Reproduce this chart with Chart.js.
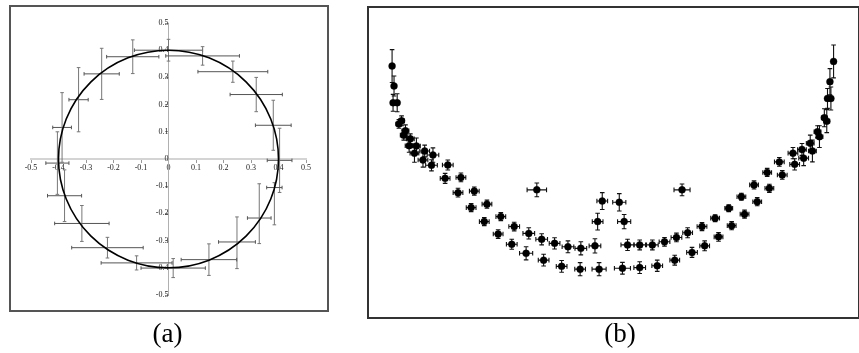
<!DOCTYPE html>
<html><head><meta charset="utf-8">
<script src="https://cdn.jsdelivr.net/npm/chart.js@4.4.1/dist/chart.umd.min.js"></script>
<style>
html,body{margin:0;padding:0;background:#fff;width:859px;height:353px;overflow:hidden;}
.frame{position:absolute;box-sizing:border-box;}
#frameA{left:9px;top:5px;width:320px;height:307px;border:2px solid #555;}
#frameB{left:367px;top:6px;width:493px;height:313px;border:2px solid #333;}
canvas{position:absolute;}
#cA{left:0;top:0;}
#cB{left:360px;top:0;}
.cap{position:absolute;font-family:"Liberation Serif","Times New Roman",serif;font-size:27px;line-height:27px;color:#000;transform:translateX(-50%);top:320px;white-space:nowrap;}
</style></head>
<body>
<div class="frame" id="frameA"></div>
<div class="frame" id="frameB"></div>
<canvas id="cA" width="340" height="320"></canvas>
<canvas id="cB" width="499" height="325"></canvas>
<div class="cap" style="left:167.5px">(a)</div>
<div class="cap" style="left:620px">(b)</div>
<script>
// ---------- Panel (a) data ----------
const aTickValues = [-0.5,-0.4,-0.3,-0.2,-0.1,0,0.1,0.2,0.3,0.4,0.5];
const FIT_RADIUS = 0.4;
const aX = [-0.130, 0.000, 0.124, 0.234, 0.319, 0.381, 0.404, 0.385, 0.330, 0.249, 0.147, 0.017, -0.116, -0.222, -0.315, -0.378, -0.404, -0.387, -0.327, -0.243];
const aY = [0.376, 0.400, 0.379, 0.321, 0.237, 0.124, -0.005, -0.105, -0.217, -0.305, -0.370, -0.401, -0.382, -0.326, -0.237, -0.135, -0.015, 0.116, 0.218, 0.313];
const aXErr = [0.095, 0.124, 0.134, 0.127, 0.095, 0.065, 0.045, 0.028, 0.043, 0.067, 0.101, 0.117, 0.129, 0.130, 0.099, 0.062, 0.042, 0.034, 0.035, 0.064];
const aYErrUp = [0.062, 0.040, 0.034, 0.039, 0.063, 0.092, 0.118, 0.018, 0.126, 0.092, 0.058, 0.035, 0.026, 0.038, 0.066, 0.095, 0.115, 0.128, 0.118, 0.094];
const aYErrDown = [0.062, 0.040, 0.034, 0.039, 0.063, 0.092, 0.118, 0.137, 0.094, 0.098, 0.058, 0.035, 0.026, 0.038, 0.066, 0.095, 0.115, 0.128, 0.118, 0.094];

// ---------- Panel (b) data ----------
const upperX = [-0.901,-0.880,-0.862,-0.846,-0.826,-0.801,-0.767,-0.733,-0.672,-0.618,-0.563,-0.511,-0.454,-0.399,-0.339,-0.286,-0.233,-0.178,-0.125,-0.067,0.067,0.117,0.169,0.219,0.268,0.314,0.373,0.427,0.483,0.535,0.587,0.641,0.691,0.747,0.784,0.818,0.848,0.876,0.889,0.899,0.914];
const upperY = [0.810,0.692,0.634,0.602,0.576,0.553,0.537,0.524,0.492,0.452,0.408,0.366,0.326,0.294,0.272,0.253,0.240,0.229,0.224,0.232,0.235,0.235,0.235,0.245,0.259,0.274,0.294,0.321,0.353,0.390,0.428,0.468,0.502,0.530,0.542,0.562,0.599,0.644,0.706,0.760,0.825];
const upperXErr = [0.006,0.008,0.012,0.014,0.016,0.016,0.020,0.024,0.022,0.020,0.020,0.020,0.020,0.022,0.024,0.024,0.022,0.024,0.024,0.024,0.027,0.024,0.024,0.022,0.022,0.020,0.020,0.018,0.016,0.018,0.018,0.018,0.020,0.020,0.018,0.016,0.014,0.012,0.008,0.008,0.006];
const upperYErr = [0.053,0.029,0.016,0.019,0.016,0.026,0.019,0.023,0.016,0.014,0.013,0.013,0.013,0.014,0.018,0.018,0.018,0.019,0.021,0.023,0.018,0.016,0.016,0.014,0.014,0.016,0.013,0.011,0.011,0.011,0.013,0.013,0.014,0.018,0.019,0.026,0.019,0.029,0.032,0.042,0.053];

const lowerX = [-0.893,-0.897,-0.873,-0.853,-0.831,-0.809,-0.774,-0.739,-0.683,-0.630,-0.576,-0.522,-0.465,-0.409,-0.350,-0.278,-0.204,-0.128,-0.050,0.046,0.117,0.189,0.261,0.332,0.384,0.441,0.495,0.548,0.600,0.650,0.703,0.754,0.791,0.827,0.856,0.886,0.903];
const lowerY = [0.746,0.692,0.624,0.588,0.554,0.530,0.508,0.491,0.449,0.403,0.355,0.310,0.270,0.237,0.208,0.186,0.166,0.157,0.157,0.160,0.162,0.168,0.186,0.211,0.232,0.261,0.297,0.334,0.374,0.417,0.460,0.494,0.514,0.537,0.583,0.633,0.706];
const lowerXErr = [0.006,0.008,0.012,0.014,0.016,0.018,0.020,0.024,0.020,0.020,0.020,0.020,0.020,0.022,0.027,0.022,0.022,0.022,0.029,0.033,0.024,0.022,0.020,0.022,0.020,0.018,0.018,0.018,0.018,0.018,0.020,0.020,0.020,0.016,0.014,0.012,0.008];
const lowerYErr = [0.032,0.027,0.014,0.016,0.021,0.029,0.023,0.018,0.016,0.014,0.013,0.013,0.014,0.016,0.021,0.019,0.019,0.021,0.021,0.019,0.019,0.018,0.016,0.016,0.016,0.014,0.013,0.013,0.013,0.013,0.014,0.018,0.024,0.035,0.035,0.037,0.037];

const outX = [-0.306,-0.037,0.033,-0.056,0.053,0.291];
const outY = [0.412,0.376,0.372,0.310,0.310,0.412];
const outXErr = [0.040,0.022,0.027,0.022,0.027,0.033];
const outYErr = [0.022,0.027,0.028,0.027,0.023,0.019];

// ---------- error bar plugin (uses the chart's scales) ----------
const errorBarPlugin = {
  id: 'errorBars',
  beforeDatasetsDraw(chart) {
    const ctx = chart.ctx, xs = chart.scales.x, ys = chart.scales.y;
    chart.data.datasets.forEach(ds => {
      if (!ds.err) return;
      const e = ds.err, cap = e.cap;
      ctx.save();
      ctx.lineWidth = e.width;
      ds.data.forEach((p, i) => {
        const px = xs.getPixelForValue(p.x), py = ys.getPixelForValue(p.y);
        const x1 = xs.getPixelForValue(p.x - e.x[i]), x2 = xs.getPixelForValue(p.x + e.x[i]);
        ctx.strokeStyle = e.colorX;
        ctx.beginPath();
        ctx.moveTo(x1, py); ctx.lineTo(x2, py);
        ctx.moveTo(x1, py - cap); ctx.lineTo(x1, py + cap);
        ctx.moveTo(x2, py - cap); ctx.lineTo(x2, py + cap);
        ctx.stroke();
        const y1 = ys.getPixelForValue(p.y + e.yUp[i]), y2 = ys.getPixelForValue(p.y - e.yDown[i]);
        ctx.strokeStyle = e.colorY;
        ctx.beginPath();
        ctx.moveTo(px, y1); ctx.lineTo(px, y2);
        ctx.moveTo(px - cap, y1); ctx.lineTo(px + cap, y1);
        ctx.moveTo(px - cap, y2); ctx.lineTo(px + cap, y2);
        ctx.stroke();
      });
      ctx.restore();
    });
  }
};

// circle fit drawn through the scales
const circlePlugin = {
  id: 'fitCircle',
  afterDatasetsDraw(chart) {
    const xs = chart.scales.x, ys = chart.scales.y;
    if (!chart.options.plugins.fitCircle || !chart.options.plugins.fitCircle.show) return;
    const ctx = chart.ctx;
    const cx = xs.getPixelForValue(0), cy = ys.getPixelForValue(0);
    const rx = xs.getPixelForValue(FIT_RADIUS) - cx, ry = cy - ys.getPixelForValue(FIT_RADIUS);
    ctx.save();
    ctx.strokeStyle = '#000';
    ctx.lineWidth = 1.6;
    ctx.beginPath();
    ctx.ellipse(cx, cy, rx, ry, 0, 0, Math.PI * 2);
    ctx.stroke();
    ctx.restore();
  }
};

const pts = (xs, ys) => xs.map((x, i) => ({x: x, y: ys[i]}));
const tickFont = {family: 'Liberation Serif', size: 8};
const fmt = v => String(Math.round(v * 10) / 10);

new Chart(document.getElementById('cA'), {
  type: 'scatter',
  data: {datasets: [{
    data: pts(aX, aY), pointRadius: 0, pointHoverRadius: 0, showLine: false,
    err: {x: aXErr, yUp: aYErrUp, yDown: aYErrDown, cap: 1.8, width: 1, colorX: '#555', colorY: '#777'}
  }]},
  options: {
    responsive: false, animation: false, events: [],
    layout: {padding: {left: 31, right: 34, top: 23, bottom: 25}},
    plugins: {legend: {display: false}, tooltip: {enabled: false}, fitCircle: {show: true}},
    scales: {
      x: {type: 'linear', position: {y: 0}, min: -0.5, max: 0.5,
        afterBuildTicks: s => { s.ticks = aTickValues.map(v => ({value: v})); },
        grid: {drawOnChartArea: false, drawTicks: true, tickLength: 3, color: '#999'},
        border: {display: true, color: '#d4d4d4', width: 2},
        ticks: {font: tickFont, color: '#222', padding: 1, maxRotation: 0, autoSkip: false, callback: fmt}},
      y: {type: 'linear', position: {x: 0}, min: -0.5, max: 0.5,
        afterBuildTicks: s => { s.ticks = aTickValues.map(v => ({value: v})); },
        grid: {drawOnChartArea: false, drawTicks: true, tickLength: 3, color: '#999'},
        border: {display: true, color: '#b0b0b0', width: 1},
        ticks: {font: tickFont, color: '#222', padding: 2, autoSkip: false, callback: fmt}}
    }
  },
  plugins: [errorBarPlugin, circlePlugin]
});

const bErr = (xe, ye) => ({x: xe, yUp: ye, yDown: ye, cap: 2.3, width: 1.1, colorX: '#111', colorY: '#111'});
const bPoint = {pointRadius: 3.5, pointHoverRadius: 3.5, pointBackgroundColor: '#000', pointBorderColor: 'rgba(0,0,0,0.35)', pointBorderWidth: 1, showLine: false};

new Chart(document.getElementById('cB'), {
  type: 'scatter',
  data: {datasets: [
    Object.assign({label: 'upper', data: pts(upperX, upperY), err: bErr(upperXErr, upperYErr)}, bPoint),
    Object.assign({label: 'lower', data: pts(lowerX, lowerY), err: bErr(lowerXErr, lowerYErr)}, bPoint),
    Object.assign({label: 'outliers', data: pts(outX, outY), err: bErr(outXErr, outYErr)}, bPoint)
  ]},
  options: {
    responsive: false, animation: false, events: [],
    layout: {padding: {left: 8, right: 1, top: 7, bottom: 7}},
    plugins: {legend: {display: false}, tooltip: {enabled: false}},
    scales: {
      x: {type: 'linear', min: -1, max: 1, display: false},
      y: {type: 'linear', min: 0, max: 1, display: false}
    }
  },
  plugins: [errorBarPlugin]
});
</script>
</body></html>
